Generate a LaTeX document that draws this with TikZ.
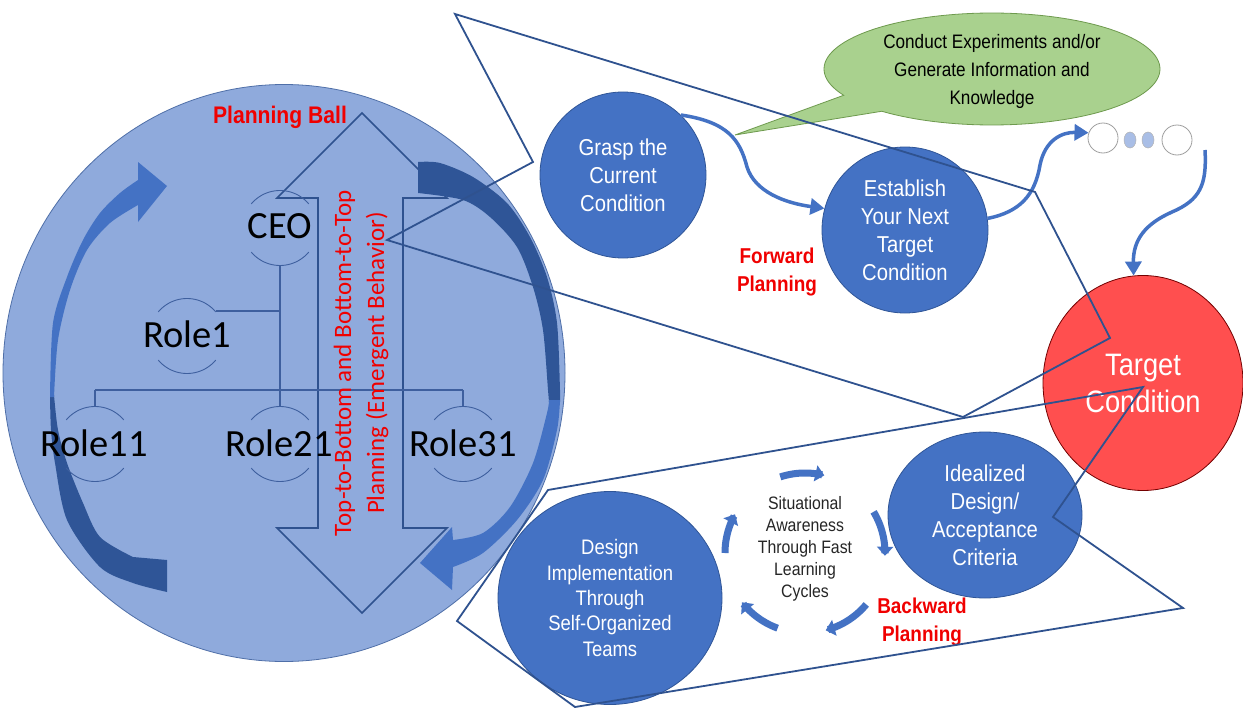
\documentclass[tikz,border=0pt]{standalone}
\usepackage{fontspec}
\setmainfont{Carlito}
\newfontfamily\cond[FakeStretch=0.88]{Liberation Sans}
\usetikzlibrary{shapes.geometric,arrows.meta}
\definecolor{ballfill}{HTML}{8FAADC}
\definecolor{ballline}{HTML}{4F6FA8}
\definecolor{midblue}{HTML}{4472C4}
\definecolor{darkblue}{HTML}{2F5597}
\definecolor{lineblue}{HTML}{2F528F}
\definecolor{orgcol}{HTML}{3E5F9E}
\definecolor{tgtred}{HTML}{FF4F4F}
\definecolor{bubgreen}{HTML}{A9D18E}
\definecolor{bubline}{HTML}{6E9A4E}
\definecolor{txtred}{HTML}{F00000}
\definecolor{dotblue}{HTML}{A9BEE6}
\newcommand{\orgarcs}[2]{%
  \draw[orgarc] plot[domain=220:320,samples=24] ({#1+37.5*cos(\x)},{#2+37.5*sin(\x)});
  \draw[orgarc] plot[domain=40:140,samples=24] ({#1+37.5*cos(\x)},{#2+37.5*sin(\x)});
}
\begin{document}
\begin{tikzpicture}[x=1pt,y=-1pt,
  bluecirc/.style={draw=darkblue, line width=0.8pt, fill=midblue, text=white, align=center, inner sep=0pt, font=\cond\fontsize{23}{28}\selectfont},
  orgline/.style={draw=orgcol, line width=1.2pt},
  orgarc/.style={draw=orgcol, line width=0.9pt},
  roletxt/.style={font=\fontsize{38.5}{40}\selectfont, text=black, inner sep=0pt},
  redlbl/.style={text=txtred, align=center, inner sep=0pt, font=\cond\bfseries\fontsize{21.5}{28.5}\selectfont},
  zoomline/.style={draw=lineblue, line width=1.8pt, line join=miter},
  conn/.style={draw=midblue, line width=3.5pt, -{Triangle[length=14pt,width=16pt]}},
  cyc/.style={draw=midblue, line width=7pt, -{Triangle[length=9pt,width=16pt]}},
]
\useasboundingbox (0,0) rectangle (1243,709);
\fill[white] (0,0) rectangle (1243,709);

% planning ball
\node[ellipse, draw=ballline, line width=0.8pt, fill=ballfill, minimum width=562pt, minimum height=577pt, inner sep=0pt] (ball) at (284,373) {};

% double block arrow
\draw[lineblue, line width=1.6pt, line join=miter] (362,113) -- (447,198) -- (403,198) -- (403,528) -- (447,528) -- (362,613) -- (277,528) -- (318,528) -- (318,198) -- (277,198) -- cycle;

% left curved arrow
\fill[darkblue] plot[smooth] coordinates {(50,395) (51,430) (55,463) (67,520) (100,567) (133,583) (167,592)} -- (167,560) -- plot[smooth] coordinates {(133,557) (100,537) (83,503) (67,463) (58,430) (54,395)} -- cycle;
\fill[midblue] plot[smooth] coordinates {(50,397) (53,323) (67,277) (83,240) (100,213) (120,193) (138,180)} -- (138,162) -- (167,186) -- (138,222) -- (138,205) -- plot[smooth] coordinates {(138,205) (110,223) (87,250) (70,290) (58,340) (54,397)} -- cycle;

% right curved arrow
\fill[darkblue] (418,162) -- plot[smooth] coordinates {(418,162) (440,163) (473,177) (507,203) (530,237) (547,277) (557,323) (560,390) (560,402)} -- (549,402) -- plot[smooth] coordinates {(549,402) (548,390) (543,330) (533,287) (517,247) (490,217) (463,200) (418,193)} -- cycle;
\fill[midblue] plot[smooth] coordinates {(560,400) (557,430) (543,480) (517,520) (483,553) (453,567)} -- (452,590) -- (420,563) -- (452,527) -- (453,540) -- plot[smooth] coordinates {(453,540) (483,533) (510,507) (533,463) (547,413) (549,400)} -- cycle;

% org chart
\draw[orgline] (280,265.5) -- (280,390);
\draw[orgline] (216,311) -- (280,311);
\draw[orgline] (95,390) -- (463,390);
\draw[orgline] (95,390) -- (95,406.5);
\draw[orgline] (280,390) -- (280,406.5);
\draw[orgline] (463,390) -- (463,406.5);
\orgarcs{280}{228}
\orgarcs{187}{336}
\orgarcs{95}{444}
\orgarcs{280}{444}
\orgarcs{463}{444}
\node[roletxt, anchor=base] (ceo) at (280,238) {CEO};
\node[roletxt, anchor=base] (role1) at (187,347) {Role1};
\node[roletxt, anchor=base] (role11) at (94,456) {Role11};
\node[roletxt, anchor=base] (role21) at (279,456) {Role21};
\node[roletxt, anchor=base] (role31) at (463,456) {Role31};

\node[rotate=90, text=txtred, align=center, inner sep=0pt, font=\fontsize{25}{33}\selectfont] (ttb) at (361,363) {Top-to-Bottom and Bottom-to-Top\\Planning (Emergent Behavior)};
\node[redlbl, font=\cond\bfseries\fontsize{24}{28}\selectfont] (pball) at (280,117) {Planning Ball};

% speech bubble
\path[fill=bubgreen, draw=bubline, line width=0.8pt] plot[domain=152:491, samples=120] ({992+168*cos(\x)},{69+56*sin(\x)}) -- (735,135) -- cycle;
\node[align=center, inner sep=0pt, font=\cond\fontsize{19.5}{28}\selectfont] (bubble) at (992,71) {Conduct Experiments and/or\\Generate Information and\\Knowledge};

% circles
\node[bluecirc, circle, minimum size=166pt] (grasp) at (623,175) {Grasp the\\Current\\Condition};
\node[bluecirc, circle, minimum size=166pt] (est) at (905,230) {Establish\\Your Next\\Target\\Condition};
\node[ellipse, fill=tgtred, draw=red!45!black, line width=0.8pt, minimum width=200pt, minimum height=215pt, inner sep=0pt, text=white, align=center, font=\cond\fontsize{31}{37}\selectfont] (tc) at (1143,383) {Target\\Condition};
\node[bluecirc, ellipse, minimum width=194pt, minimum height=166pt] (ideal) at (985,515) {Idealized\\Design/\\Acceptance\\Criteria};
\node[bluecirc, ellipse, minimum width=224pt, minimum height=213pt, font=\cond\fontsize{21}{25.3}\selectfont] (design) at (610,598) {Design\\Implementation\\Through\\Self-Organized\\Teams};

% ellipsis
\node[circle, draw=gray!75, fill=white, line width=0.8pt, minimum size=30pt, inner sep=0pt] (e1) at (1103,138) {};
\node[ellipse, draw=gray!60, fill=dotblue, line width=0.5pt, minimum width=12pt, minimum height=16pt, inner sep=0pt] (e2) at (1130,140) {};
\node[ellipse, draw=gray!60, fill=dotblue, line width=0.5pt, minimum width=12pt, minimum height=16pt, inner sep=0pt] (e3) at (1148,140) {};
\node[circle, draw=gray!75, fill=white, line width=0.8pt, minimum size=30pt, inner sep=0pt] (e4) at (1177,140) {};
\coordinate (e4out) at (1205,150);

% labels
\node[redlbl] (fwd) at (777,272) {Forward\\Planning};
\node[redlbl] (bwd) at (922,622) {Backward\\Planning};
\node[align=center, inner sep=0pt, text=black!85, font=\cond\fontsize{18}{22}\selectfont] (sit) at (805,549) {Situational\\Awareness\\Through Fast\\Learning\\Cycles};

% connectors
\draw[conn] (grasp.46) .. controls (728,122) and (740,140) .. (747,167) .. controls (755,192) and (785,203) .. (est.165);
\draw[conn] (est.8) .. controls (1020,212) and (1035,195) .. (1040,165) .. controls (1045,140) and (1062,132) .. (e1.160);
\draw[conn] (e4out) .. controls (1207,185) and (1200,200) .. (1172,212) .. controls (1145,224) and (1133,240) .. (tc.95);

% learning cycle arrows
\draw[cyc] plot[domain=-108:-76, samples=20] ({805+80*cos(\x)},{553+80*sin(\x)});
\draw[cyc] plot[domain=-31:2, samples=20] ({805+80*cos(\x)},{553+80*sin(\x)});
\draw[cyc] plot[domain=40:75, samples=20] ({805+80*cos(\x)},{553+80*sin(\x)});
\draw[cyc] plot[domain=110:142, samples=20] ({805+80*cos(\x)},{553+80*sin(\x)});
\draw[cyc] plot[domain=180:209, samples=20] ({805+80*cos(\x)},{553+80*sin(\x)});

% zoom callout outlines
\draw[zoomline] (455,14) -- (1035,192) -- (1110,338) -- (963,417) -- (387,240) -- (533,162) -- cycle;
\draw[zoomline] (548,490) -- (1143,387) -- (1053,517) -- (1183,608) -- (575,707) -- (457,621) -- cycle;
\end{tikzpicture}
\end{document}
